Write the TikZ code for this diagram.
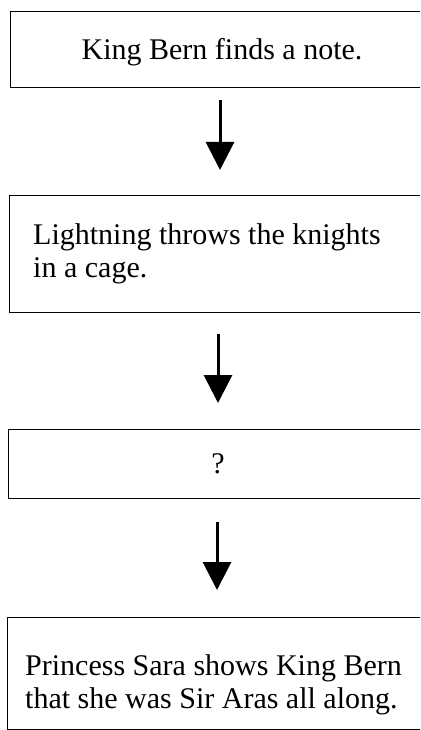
\documentclass[tikz,border=0pt]{standalone}
\usepackage{fontspec}
\setmainfont{Liberation Serif}
\usetikzlibrary{arrows.meta}

\begin{document}
\begin{tikzpicture}[x=1pt, y=1pt,
  framebox/.style={draw=black, line width=1.4pt, rectangle, inner sep=0pt, anchor=north west},
  storytext/.style={inner sep=0pt, font=\fontsize{30}{33}\selectfont, align=left},
  flowarrow/.style={line width=3pt, -{Triangle[width=28pt, length=28pt]}}
]
  % page area; the frames run on past the right edge and are cut there
  \clip (0,0) rectangle (420,-730);
  \fill[white] (0,0) rectangle (420,-730);

  % frames
  \node[framebox, minimum width=420pt, minimum height=76pt]  (b1) at (10,-11)  {};
  \node[framebox, minimum width=420pt, minimum height=117pt] (b2) at (9,-195)  {};
  \node[framebox, minimum width=420pt, minimum height=69pt]  (b3) at (8,-429)  {};
  \node[framebox, minimum width=420pt, minimum height=112pt] (b4) at (7,-617)  {};

  % texts (two-line texts are placed by the baseline of their last line)
  \node[storytext, anchor=base] (t1) at (222,-60) {King Bern finds a note.};
  \node[storytext, anchor=base west] (t2) at (33,-277) {Lightning throws the knights\\in a cage.};
  \node[storytext, anchor=base] (t3) at (218,-473) {?};
  \node[storytext, anchor=base west] (t4) at (25,-708) {Princess Sara shows King Bern\\that she was Sir Aras all along.};

  % arrow ends
  \coordinate (a1s) at (220,-100); \coordinate (a1e) at (220,-170);
  \coordinate (a2s) at (218,-334); \coordinate (a2e) at (218,-403);
  \coordinate (a3s) at (217,-522); \coordinate (a3e) at (217,-590);

  \draw[flowarrow] (a1s) -- (a1e);
  \draw[flowarrow] (a2s) -- (a2e);
  \draw[flowarrow] (a3s) -- (a3e);
\end{tikzpicture}
\end{document}
